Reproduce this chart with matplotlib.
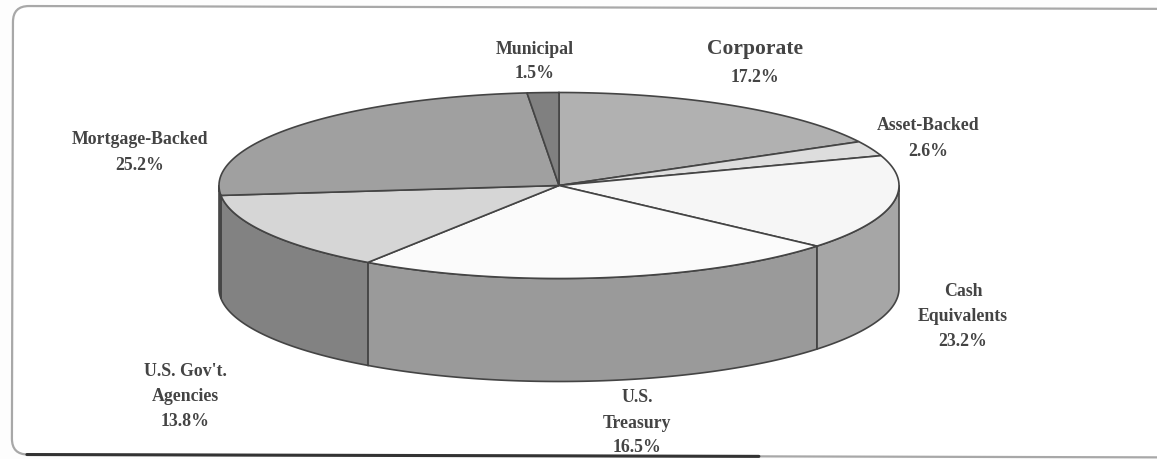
import numpy as np
import matplotlib
matplotlib.use('Agg')
import matplotlib.pyplot as plt
from matplotlib.patches import FancyBboxPatch
from matplotlib.transforms import Affine2D

# slices clockwise from 12 o'clock, as drawn on the pie
slice_names = ['Corporate', 'Asset-Backed', 'Slice C', 'Slice D', "U.S. Gov't. Agencies", 'Mortgage-Backed', 'Municipal']
slice_shares = [17.2, 2.6, 16.5, 23.2, 13.8, 25.2, 1.5]
top_colors = ['#b1b1b1', '#dddddd', '#f6f6f6', '#fbfbfb', '#d6d6d6', '#a0a0a0', '#808080']
side_colors = ['#b1b1b1', '#dddddd', '#a6a6a6', '#9a9a9a', '#828282', '#5a5a5a', '#808080']

# printed labels
label_lines = [['Municipal', '1.5%'],
               ['Corporate', '17.2%'],
               ['Asset-Backed', '2.6%'],
               ['Mortgage-Backed', '25.2%'],
               ['Cash', 'Equivalents', '23.2%'],
               ["U.S. Gov't.", 'Agencies', '13.8%'],
               ['U.S.', 'Treasury', '16.5%']]
label_x = [535, 755, 928, 140, 963, 185, 637]
label_y = [49, 49, 126, 139, 291, 372, 398]
label_step = [24.5, 29, 25, 26, 25.5, 24.5, 25]

cx, cy = 559, 185.5
rx, ry = 340, 93
depth = 103
edge = '#444444'


def rim(t0, t1, dy=0):
    t = np.radians(np.linspace(t0, t1, 200))
    return cx + rx * np.sin(t), cy - ry * np.cos(t) + dy


fig = plt.figure(figsize=(11.57, 4.59), dpi=100)
ax = fig.add_axes([0, 0, 1, 1])
ax.set_xlim(0, 1157)
ax.set_ylim(459, 0)
ax.axis('off')
fig.patch.set_facecolor('#fdfdfd')

# rounded frame is scanned slightly crooked and runs off the right side
tilt = Affine2D().rotate_around(13, 6, 0.0025) + ax.transData
ax.add_patch(FancyBboxPatch((28, 21), 1160, 418.5, boxstyle='round,pad=15,rounding_size=16',
                            fc='white', ec='#a8a8a8', lw=1.6, zorder=1, transform=tilt))
ax.plot([28, 760], [454.5, 454.5], color='#333333', lw=2.2, zorder=1.5, solid_capstyle='round', transform=tilt)

ends = np.cumsum(slice_shares) * 3.6
starts = np.concatenate([[0], ends[:-1]])

# side wall first, only the front half of the rim shows
for a, b, col in zip(starts, ends, side_colors):
    a2, b2 = max(a, 90), min(b, 270)
    if a2 >= b2:
        continue
    xt, yt = rim(a2, b2)
    xb, yb = rim(a2, b2, depth)
    ax.fill(np.r_[xt, xb[::-1]], np.r_[yt, yb[::-1]], fc=col, ec=edge, lw=1.2, zorder=2)

# top face
for a, b, col in zip(starts, ends, top_colors):
    xt, yt = rim(a, b)
    ax.fill(np.r_[cx, xt], np.r_[cy, yt], fc=col, ec=edge, lw=1.2, zorder=3)

for lines, x, y, step in zip(label_lines, label_x, label_y, label_step):
    for i, line in enumerate(lines):
        size = 15.5 if line == 'Corporate' else 12.8
        ax.text(x, y + i * step, line, ha='center', va='center', color='#444444',
                family='Liberation Serif', weight='bold', fontsize=size, zorder=4)

fig.savefig('out.png', dpi=100, facecolor=fig.get_facecolor())
